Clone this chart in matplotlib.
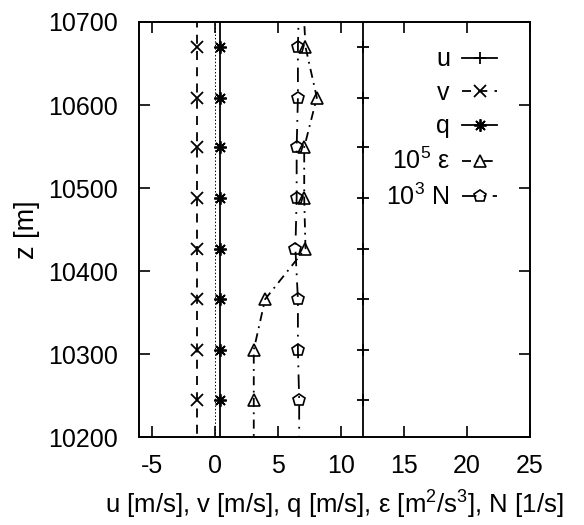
import matplotlib
matplotlib.use('Agg')
from matplotlib import pyplot as plt

plt.rcParams['font.family'] = ['Liberation Sans', 'DejaVu Sans']
plt.rcParams['mathtext.default'] = 'regular'
plt.rcParams['axes.unicode_minus'] = False
plt.rcParams['font.size'] = 18

# heights [m]; first and last rows lie outside the plotted range (lines run off the axes)
z = [10184, 10245, 10305, 10366, 10427, 10488, 10549, 10609, 10670, 10731]
u = [11.8, 11.8, 11.8, 11.8, 11.8, 11.8, 11.8, 11.8, 11.8, 11.8]
v = [-1.4, -1.4, -1.4, -1.4, -1.4, -1.4, -1.4, -1.4, -1.4, -1.4]
q = [0.4, 0.4, 0.4, 0.4, 0.4, 0.4, 0.4, 0.4, 0.4, 0.4]
eps = [3.1, 3.1, 3.1, 4.0, 7.2, 7.1, 7.1, 8.1, 7.2, 7.0]
n_bv = [6.7, 6.7, 6.6, 6.6, 6.4, 6.5, 6.5, 6.6, 6.6, 6.7]

xticks = [-5, 0, 5, 10, 15, 20, 25]
yticks = [10200, 10300, 10400, 10500, 10600, 10700]

fig = plt.figure(figsize=(5.84, 5.25), dpi=100)
ax = fig.add_axes([0.238, 0.1676, 0.6695, 0.7905])

ax.axvline(0, color='black', lw=0.7, ls=(0, (1.5, 2)))

ms = 9
ax.plot(u, z, color='black', lw=1.3, marker='+', ms=ms, mew=1.3, label='u')
ax.plot(v, z, color='black', lw=1.3, ls=(0, (5, 4)), marker='x', ms=ms, mew=1.3, label='v')
ax.plot(q, z, color='black', lw=1.3, marker=(8, 2, 0), ms=ms, mew=1.3, label='q')
ax.plot(eps, z, color='black', lw=1.3, ls=(0, (5, 3, 1, 3)), marker='^', ms=ms, mfc='none',
        mew=1.2, label='$10^5$ ε')
ax.plot(n_bv, z, color='black', lw=1.3, ls=(0, (8, 4, 1, 4)), marker='p', ms=ms, mfc='none',
        mew=1.2, label='$10^3$ N')

ax.set_xlim(-6, 25)
ax.set_ylim(10200, 10700)
ax.set_xticks(xticks)
ax.set_yticks(yticks)
ax.tick_params(axis='y', direction='in', length=8, width=1.2, right=True, pad=15)
ax.tick_params(axis='x', direction='in', length=8, width=1.2, top=True, pad=12)
for s in ax.spines.values():
    s.set_linewidth(1.4)

ax.set_xlabel('u [m/s], v [m/s], q [m/s], ε [m$^2$/s$^3$], N [1/s]', fontsize=18.5, labelpad=8)
ax.set_ylabel('z [m]', fontsize=19.5, labelpad=6)

ax.legend(loc='upper right', bbox_to_anchor=(0.955, 0.975), frameon=False, markerfirst=False,
          handlelength=1.4, handletextpad=0.5, labelspacing=0.38, borderaxespad=0.2)

# panel title sits almost entirely above the top edge in the reference
fig.text(0.56, 1.03, '(a)', ha='center', va='baseline')

fig.savefig('out.png', dpi=100)
